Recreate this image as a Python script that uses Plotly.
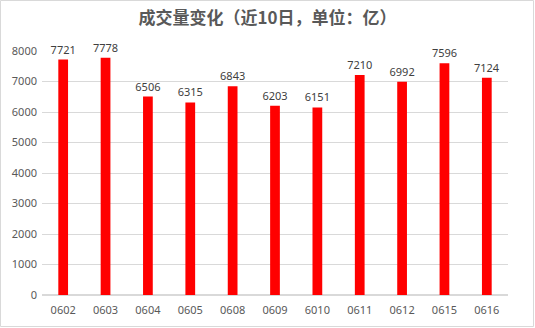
import plotly.graph_objects as go

categories = ["0602", "0603", "0604", "0605", "0608", "0609", "6010", "0611", "0612", "0615", "0616"]
values = [7721, 7778, 6506, 6315, 6843, 6203, 6151, 7210, 6992, 7596, 7124]
y_ticks = [0, 1000, 2000, 3000, 4000, 5000, 6000, 7000, 8000]

W, H = 535, 328
ml, mr, mt, mb = 42, 27, 51, 33
pw, ph = W - ml - mr, H - mt - mb

fig = go.Figure(go.Bar(
    x=categories, y=values,
    marker=dict(color="#FF0000", line=dict(width=0)),
    text=[str(v) for v in values], textposition="outside",
    constraintext="none",
    textfont=dict(size=11, color="#404040", family="Noto Sans"),
    cliponaxis=False,
))

fig.update_layout(
    width=W, height=H,
    margin=dict(l=ml, r=mr, t=mt, b=mb),
    paper_bgcolor="white", plot_bgcolor="white",
    bargap=0.77,
    showlegend=False,
    title=dict(text="<b>成交量变化（近10日，单位：亿）</b>", x=0.5, xanchor="center",
               y=1 - 18 / H, yanchor="middle",
               font=dict(size=17, color="#595959", family="Noto Sans CJK SC")),
    xaxis=dict(type="category", showgrid=False, showline=False, ticks="",
               ticklabelstandoff=7,
               tickfont=dict(size=11, color="#595959", family="Noto Sans")),
    yaxis=dict(range=[0, 8000], tickvals=y_ticks, showgrid=True, gridcolor="#D9D9D9",
               gridwidth=1, zeroline=True, zerolinecolor="#D9D9D9", showline=False,
               ticks="", ticklabelstandoff=4,
               tickfont=dict(size=11, color="#595959", family="Noto Sans")),
    shapes=[dict(type="rect", xref="paper", yref="paper",
                 x0=-(ml - 0.5) / pw, x1=1 + (mr - 1.5) / pw,
                 y0=-(mb - 1.5) / ph, y1=1 + (mt - 0.5) / ph,
                 line=dict(color="#D9D9D9", width=1), fillcolor="rgba(0,0,0,0)")],
    font=dict(family="Noto Sans"),
)

fig.write_html("out.html")
